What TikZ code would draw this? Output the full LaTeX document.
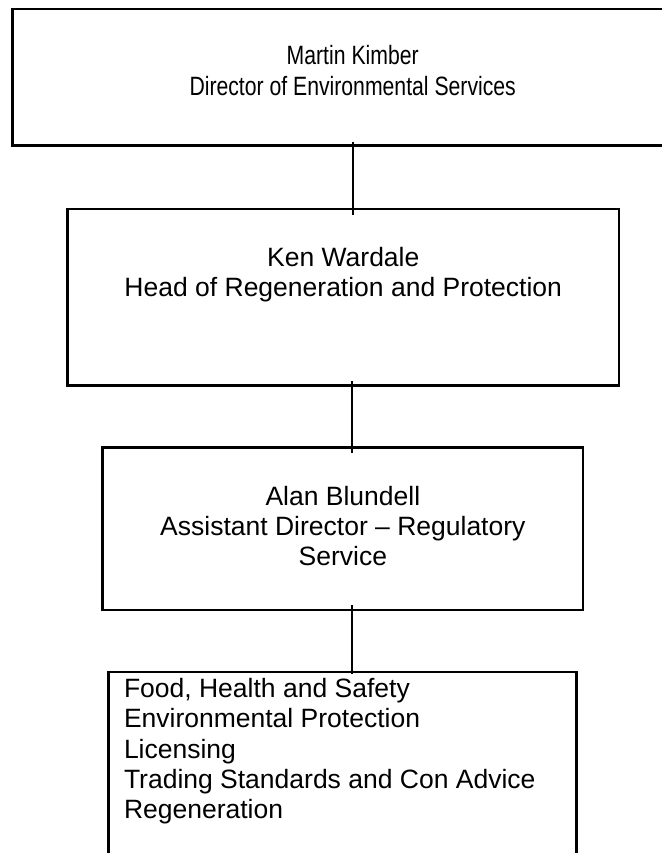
\documentclass[tikz,border=0pt]{standalone}
\usepackage{fontspec}
\setmainfont{Liberation Sans}
\newfontfamily\narrowfont[FakeStretch=0.8]{Liberation Sans}
\begin{document}
\begin{tikzpicture}[x=1pt,y=-1pt,
  box/.style={draw=black,line width=2.6pt,rectangle,inner sep=0pt,fill=none},
  txt/.style={anchor=base,inner sep=0pt,font=\fontsize{26.5}{30.5}\selectfont},
  toptxt/.style={anchor=base,inner sep=0pt,font=\narrowfont\fontsize{26.5}{30.5}\selectfont},
  ltxt/.style={anchor=base west,inner sep=0pt,font=\fontsize{26.5}{30.5}\selectfont},
  conn/.style={draw=black,line width=2.2pt}]
\useasboundingbox (0,0) rectangle (661,853);
% boxes
\node[box,minimum width=679.3pt,minimum height=136.7pt] (b1) at (352.35,77.35) {};
\node[box,minimum width=551.5pt,minimum height=176.7pt] (b2) at (343.25,297.35) {};
\node[box,minimum width=480.3pt,minimum height=162.3pt] (b3) at (342.85,528.85) {};
\node[box,minimum width=467.8pt,minimum height=208pt] (b4) at (342.6,776) {};
% connectors
\coordinate (c1a) at (352.7,142);
\coordinate (c1b) at (352.7,215);
\coordinate (c2a) at (351.6,381);
\coordinate (c2b) at (351.6,453);
\coordinate (c3a) at (351.8,605);
\coordinate (c3b) at (351.8,674);
\draw[conn] (c1a) -- (c1b);
\draw[conn] (c2a) -- (c2b);
\draw[conn] (c3a) -- (c3b);
% texts
\node[toptxt] (t1a) at (352.7,65) {Martin Kimber};
\node[toptxt] (t1b) at (352.7,95.5) {Director of Environmental Services};
\node[txt] (t2a) at (343.25,266) {Ken Wardale};
\node[txt] (t2b) at (343.25,296.4) {Head of Regeneration and Protection};
\node[txt] (t3a) at (342.85,505) {Alan Blundell};
\node[txt] (t3b) at (342.85,535.4) {Assistant Director – Regulatory};
\node[txt] (t3c) at (342.85,565.8) {Service};
\node[ltxt] (t4a) at (123.8,697.3) {Food, Health and Safety};
\node[ltxt] (t4b) at (123.8,727.7) {Environmental Protection};
\node[ltxt] (t4c) at (123.8,758.1) {Licensing};
\node[ltxt] (t4d) at (123.8,788.5) {Trading Standards and Con Advice};
\node[ltxt] (t4e) at (123.8,818.9) {Regeneration};
\end{tikzpicture}
\end{document}
